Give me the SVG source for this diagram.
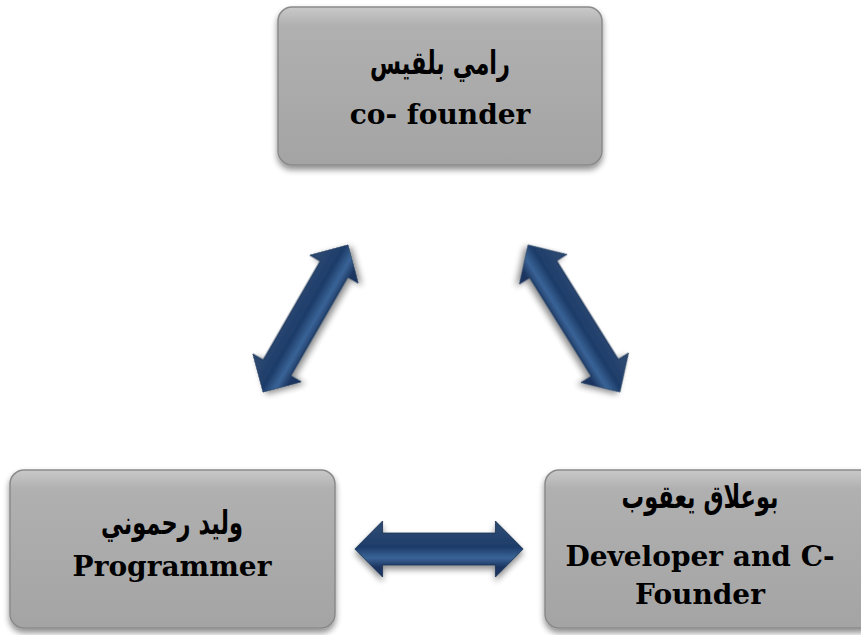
<svg xmlns="http://www.w3.org/2000/svg" width="861" height="635" viewBox="0 0 861 635">
<defs>
<linearGradient id="boxg" x1="0" y1="0" x2="0" y2="1">
<stop offset="0" stop-color="#c9c9c9"/>
<stop offset="0.12" stop-color="#b0b0b0"/>
<stop offset="1" stop-color="#a4a4a4"/>
</linearGradient>
<linearGradient id="arrg" gradientUnits="userSpaceOnUse" x1="0" y1="-18" x2="0" y2="18">
<stop offset="0" stop-color="#2a4670"/>
<stop offset="0.45" stop-color="#1d3d6a"/>
<stop offset="0.75" stop-color="#3a6497"/>
<stop offset="1" stop-color="#1c3560"/>
</linearGradient>
<filter id="sh" x="-10%" y="-10%" width="120%" height="125%">
<feGaussianBlur in="SourceAlpha" stdDeviation="3"/>
<feOffset dx="0" dy="4" result="b"/>
<feComponentTransfer><feFuncA type="linear" slope="0.45"/></feComponentTransfer>
<feMerge><feMergeNode/><feMergeNode in="SourceGraphic"/></feMerge>
</filter>
<path id="arr" d="M-85,0 L-57,-28 L-57,-16 L57,-16 L57,-28 L85,0 L57,28 L57,16 L-57,16 L-57,28 Z"/>
</defs>
<style>
.box{fill:url(#boxg);stroke:#8a8a8a;stroke-width:1.5;filter:url(#sh)}
.ar{font-family:"DejaVu Sans","Noto Sans",sans-serif;font-weight:bold;font-size:25px;fill:#000;text-anchor:middle}
.en{font-family:"DejaVu Serif","Liberation Serif",serif;font-weight:bold;font-size:28px;fill:#000;text-anchor:middle}
.arrow{fill:url(#arrg);stroke:#17304f;stroke-width:0.8;filter:url(#sh)}
</style>
<g id="node-top">
<rect class="box" x="278" y="7" width="324" height="158" rx="14"/>
<text class="ar" transform="translate(440,74) scale(0.9,1.3)" direction="rtl">رامي بلقيس</text>
<text class="en" x="440" y="124">co- founder</text>
</g>
<g id="node-left">
<rect class="box" x="10" y="470" width="325" height="158" rx="14"/>
<text class="ar" transform="translate(172,534) scale(0.9,1.3)" direction="rtl">وليد رحموني</text>
<text class="en" x="172" y="576">Programmer</text>
</g>
<g id="node-right">
<rect class="box" x="545" y="470" width="330" height="158" rx="14"/>
<text class="ar" transform="translate(700,508) scale(0.9,1.3)" direction="rtl">بوعلاق يعقوب</text>
<text class="en" x="700" y="566">Developer and C-</text>
<text class="en" x="700" y="604">Founder</text>
</g>
<g id="connectors">
<use href="#arr" class="arrow" transform="translate(305.5,318.5) rotate(-60)"/>
<use href="#arr" class="arrow" transform="translate(574,318.5) rotate(58) scale(1.02,1)"/>
<use href="#arr" class="arrow" transform="translate(439,549) scale(0.99,1)"/>
</g>
</svg>
